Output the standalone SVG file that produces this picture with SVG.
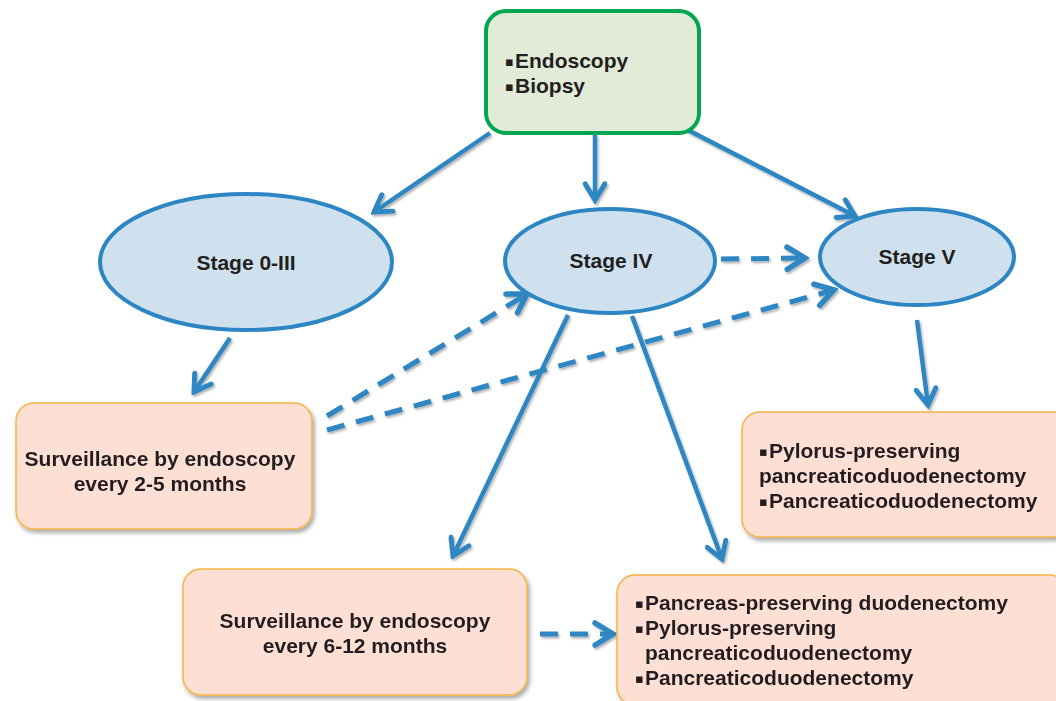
<svg xmlns="http://www.w3.org/2000/svg" width="1056" height="701" viewBox="0 0 1056 701">
<style>
.t{font-family:"Liberation Sans",Arial,sans-serif;font-weight:bold;font-size:21px;fill:#231f20}
.b{font-family:"DejaVu Sans",sans-serif;font-weight:bold;font-size:13px;fill:#231f20}
.ell{fill:#cfe1ef;stroke:#2d86c3;stroke-width:4}
.box{fill:#fde0d3;stroke:#f6b246;stroke-width:1.5}
.ln{fill:none;stroke:#2d86c3;stroke-width:4.5;marker-end:url(#ah)}
.dsh{stroke-dasharray:18 12;stroke-width:5}
</style>
<defs>
<marker id="ah" viewBox="0 0 20 20" refX="17" refY="10" markerWidth="5.5" markerHeight="5.5" markerUnits="strokeWidth" orient="auto">
<path d="M4,2 L17,10 L4,18" fill="none" stroke="#2d86c3" stroke-width="4" stroke-linecap="round" stroke-linejoin="miter"/>
</marker>
<filter id="sh" x="-10%" y="-10%" width="130%" height="130%">
<feDropShadow dx="2" dy="3" stdDeviation="2" flood-color="#000" flood-opacity="0.35"/>
</filter>
<filter id="lsh" x="-10%" y="-10%" width="130%" height="130%">
<feDropShadow dx="1.5" dy="2" stdDeviation="1" flood-color="#000" flood-opacity="0.3"/>
</filter>
</defs>
<rect width="1056" height="701" fill="#fff"/>
<g id="connectors" filter="url(#lsh)">
<line class="ln" x1="490" y1="133" x2="374" y2="212"/>
<line class="ln" x1="595" y1="135" x2="595" y2="200"/>
<line class="ln" x1="684" y1="128" x2="855" y2="216"/>
<line class="ln" x1="230" y1="338" x2="194" y2="392"/>
<line class="ln dsh" x1="721" y1="259" x2="805" y2="258"/>
<line class="ln dsh" x1="327" y1="416" x2="527" y2="294"/>
<line class="ln dsh" x1="327" y1="430" x2="834" y2="290"/>
<line class="ln" x1="568" y1="315" x2="453" y2="556"/>
<line class="ln" x1="632" y1="316" x2="722" y2="559"/>
<line class="ln" x1="917" y1="320" x2="928" y2="405"/>
<line class="ln dsh" x1="540" y1="634" x2="613" y2="634"/>
</g>
<g id="diag">
<rect x="486" y="11" width="213" height="122" rx="20" fill="#e2ebd8" stroke="#00a651" stroke-width="4"/>
<text class="b" x="505" y="66">▪</text>
<text class="t" x="515" y="68">Endoscopy</text>
<text class="b" x="505" y="91">▪</text>
<text class="t" x="515" y="93">Biopsy</text>
</g>
<g id="stage03">
<ellipse class="ell" cx="246" cy="262" rx="146" ry="68"/>
<text class="t" x="246" y="270" text-anchor="middle" font-size="20">Stage 0-III</text>
</g>
<g id="stage4">
<ellipse class="ell" cx="610" cy="261" rx="105" ry="52"/>
<text class="t" x="611" y="268" text-anchor="middle">Stage IV</text>
</g>
<g id="stage5">
<ellipse class="ell" cx="917" cy="257" rx="97" ry="48"/>
<text class="t" x="917" y="264" text-anchor="middle">Stage V</text>
</g>
<g id="surv25" filter="url(#sh)">
<rect class="box" x="16" y="403" width="296" height="126" rx="18"/>
<text class="t" x="160" y="466" text-anchor="middle">Surveillance by endoscopy</text>
<text class="t" x="160" y="491" text-anchor="middle">every 2-5 months</text>
</g>
<g id="surv612" filter="url(#sh)">
<rect class="box" x="183" y="569" width="344" height="126" rx="18"/>
<text class="t" x="355" y="628" text-anchor="middle">Surveillance by endoscopy</text>
<text class="t" x="355" y="653" text-anchor="middle">every 6-12 months</text>
</g>
<g id="surgery5" filter="url(#sh)">
<rect class="box" x="742" y="412" width="330" height="125" rx="18"/>
<text class="b" x="759" y="456">▪</text>
<text class="t" x="769" y="458">Pylorus-preserving</text>
<text class="t" x="759" y="483">pancreaticoduodenectomy</text>
<text class="b" x="759" y="506">▪</text>
<text class="t" x="769" y="508">Pancreaticoduodenectomy</text>
</g>
<g id="surgery4" filter="url(#sh)">
<rect class="box" x="617" y="575" width="450" height="130" rx="18"/>
<text class="b" x="635" y="608">▪</text>
<text class="t" x="645" y="610">Pancreas-preserving duodenectomy</text>
<text class="b" x="635" y="633">▪</text>
<text class="t" x="645" y="635">Pylorus-preserving</text>
<text class="t" x="645" y="660">pancreaticoduodenectomy</text>
<text class="b" x="635" y="683">▪</text>
<text class="t" x="645" y="685">Pancreaticoduodenectomy</text>
</g>
</svg>
